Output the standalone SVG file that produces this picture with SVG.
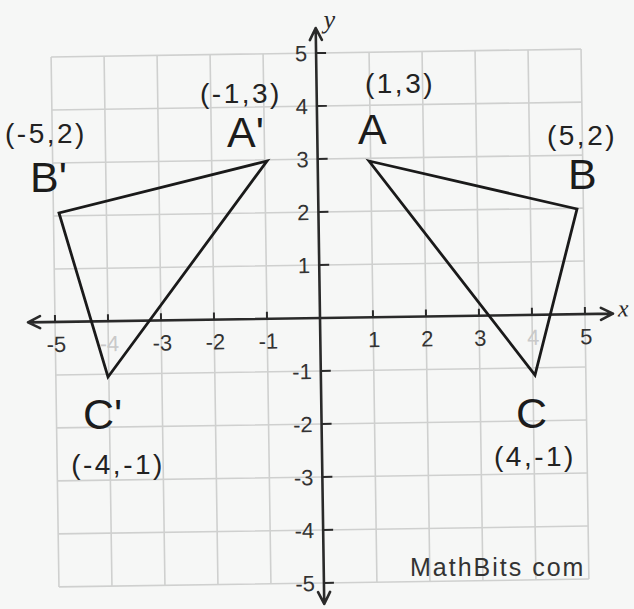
<svg xmlns="http://www.w3.org/2000/svg" width="634" height="609" viewBox="0 0 634 609">
<style>
.grid{stroke:#cfd0cf;stroke-width:1.6;fill:none}
.axis{stroke:#2a2a2a;stroke-width:2.6;fill:none;stroke-linecap:round;stroke-linejoin:round}
.tick{stroke:#2a2a2a;stroke-width:2;fill:none}
.tl{font-family:"Liberation Sans",Arial,sans-serif;font-size:22px;fill:#333}
.tlx{text-anchor:middle}
.tly{text-anchor:end}
.faint{fill:#c9c9c9}
.tri{stroke:#1a1a1a;stroke-width:2.8;fill:none;stroke-linejoin:miter}
.vl{font-family:"Liberation Sans",Arial,sans-serif;font-size:43px;fill:#1c1c1c}
.cl{font-family:"Liberation Sans",Arial,sans-serif;font-size:28px;fill:#222;letter-spacing:2.5px;text-anchor:middle}
.ax{font-family:"Liberation Serif","Times New Roman",serif;font-style:italic;fill:#2a2a2a}
.wm{font-family:"Liberation Sans",Arial,sans-serif;font-size:25px;fill:#333;letter-spacing:2px}
</style>
<rect x="0" y="0" width="634" height="609" fill="#f6f7f6"/>
<g id="plane" transform="rotate(-0.85 320 318)">
<g id="grid">
<path class="grid" d="M55 53V583M108 53V583M161 53V583M214 53V583M267 53V583M373 53V583M426 53V583M479 53V583M532 53V583M585 53V583"/>
<path class="grid" d="M55 53H585M55 106H585M55 159H585M55 212H585M55 265H585M55 371H585M55 424H585M55 477H585M55 530H585M55 583H585"/>
</g>
<g id="axes">
<path class="axis" d="M28 318H613M40 312L28 318L40 324M601 312L613 318L601 324"/>
<path class="axis" d="M320 28V604M314 40L320 28L326 40M314 592L320 604L326 592"/>
<path class="tick" d="M55 318V311M108 318V311M161 318V311M214 318V311M267 318V311M373 318V311M426 318V311M479 318V311M532 318V311M585 318V311"/>
<path class="tick" d="M320 53H330M320 106H330M320 159H330M320 212H330M320 265H330M320 371H330M320 424H330M320 477H330M320 530H330M320 583H330"/>
<text class="ax" x="618" y="321" font-size="24">x</text>
<text class="ax" x="328" y="28" font-size="26">y</text>
</g>
<g id="xlabels" class="tl tlx">
<text x="56" y="348">-5</text>
<text x="109" y="348" class="faint">-4</text>
<text x="162" y="348">-3</text>
<text x="215" y="348">-2</text>
<text x="268" y="348">-1</text>
<text x="374" y="348">1</text>
<text x="427" y="348">2</text>
<text x="480" y="348">3</text>
<text x="533" y="348" class="faint">4</text>
<text x="586" y="348">5</text>
</g>
<g id="ylabels" class="tl tly">
<text x="311" y="61">5</text>
<text x="311" y="114">4</text>
<text x="311" y="167">3</text>
<text x="311" y="220">2</text>
<text x="311" y="273">1</text>
<text x="311" y="379">-1</text>
<text x="311" y="432">-2</text>
<text x="311" y="485">-3</text>
<text x="311" y="538">-4</text>
<text x="311" y="591">-5</text>
</g>
</g>
<g id="triangle-ABC">
<polygon class="tri" points="369,161 577,209 535,375"/>
<text class="vl" x="358" y="144">A</text>
<text class="vl" x="568" y="189">B</text>
<text class="vl" x="516" y="428">C</text>
<text class="cl" x="400" y="93">(1,3)</text>
<text class="cl" x="582" y="145">(5,2)</text>
<text class="cl" x="535" y="466">(4,-1)</text>
</g>
<g id="triangle-A1B1C1">
<polygon class="tri" points="267,161 59,213 108,377"/>
<text class="vl" x="227" y="147">A'</text>
<text class="vl" x="30" y="192">B'</text>
<text class="vl" x="83" y="429">C'</text>
<text class="cl" x="241" y="103">(-1,3)</text>
<text class="cl" x="46" y="143">(-5,2)</text>
<text class="cl" x="118" y="474">(-4,-1)</text>
</g>
<g id="watermark">
<text class="wm" x="410" y="576">MathBits com</text>
</g>
</svg>
